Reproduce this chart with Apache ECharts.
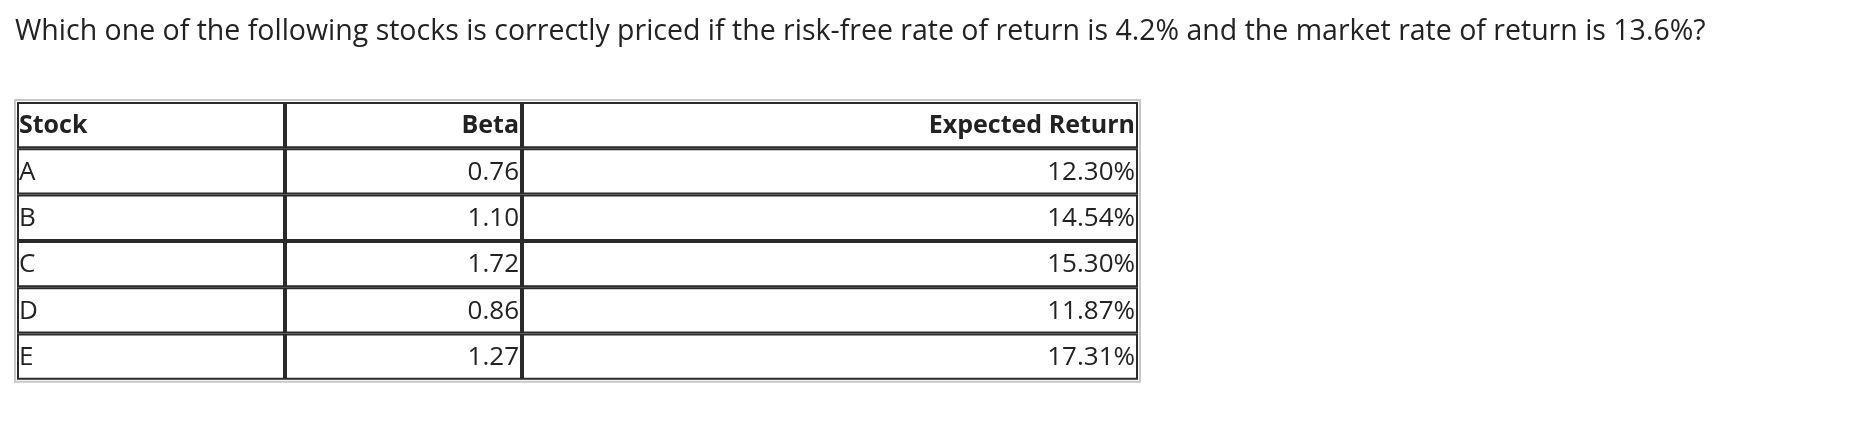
<!DOCTYPE html><html><head><meta charset="utf-8"><script src="https://cdn.jsdelivr.net/npm/echarts@6/dist/echarts.min.js"></script>
<style>html,body{margin:0;padding:0;background:#fff}#c{width:1853px;height:433px}</style></head><body><div id="c"></div><script>
const title='Which one of the following stocks is correctly priced if the risk-free rate of return is 4.2% and the market rate of return is 13.6%?';
const headers=['Stock','Beta','Expected Return'];
const stocks=['A','B','C','D','E'];
const betas=['0.76','1.10','1.72','0.86','1.27'];
const returns=['12.30%','14.54%','15.30%','11.87%','17.31%'];
const colX=[17,285,522,1138];
const top0=102, rh=46.3;
const font='"Open Sans", sans-serif';
const els=[];
els.push({type:'text',left:15,top:17,style:{text:title,font:'28.5px '+font,fill:'#222'}});
const rows=[headers].concat(stocks.map((s,i)=>[s,betas[i],returns[i]]));
els.push({type:'rect',shape:{x:colX[0]-2,y:top0-2,width:colX[3]-colX[0]+4,height:rh*rows.length+4},style:{fill:'none',stroke:'#c8c8c8',lineWidth:2}});
rows.forEach((r,ri)=>{
  const y=top0+ri*rh;
  for(let ci=0;ci<3;ci++){
    const x0=colX[ci],x1=colX[ci+1];
    els.push({type:'rect',shape:{x:x0+1,y:y+1,width:x1-x0-2,height:rh-2},style:{fill:'#fff',stroke:'#2a2a2a',lineWidth:2}});
    const right=ci>0;
    els.push({type:'text',x:right?x1-3:x0+2,y:y+rh/2+1,style:{text:r[ci],font:(ri===0?'bold 25px ':'26px ')+font,fill:'#222',align:right?'right':'left',verticalAlign:'middle'}});
  }
});
const ch=echarts.init(document.getElementById('c'));
ch.setOption({animation:false,graphic:{elements:els}});
</script></body></html>
